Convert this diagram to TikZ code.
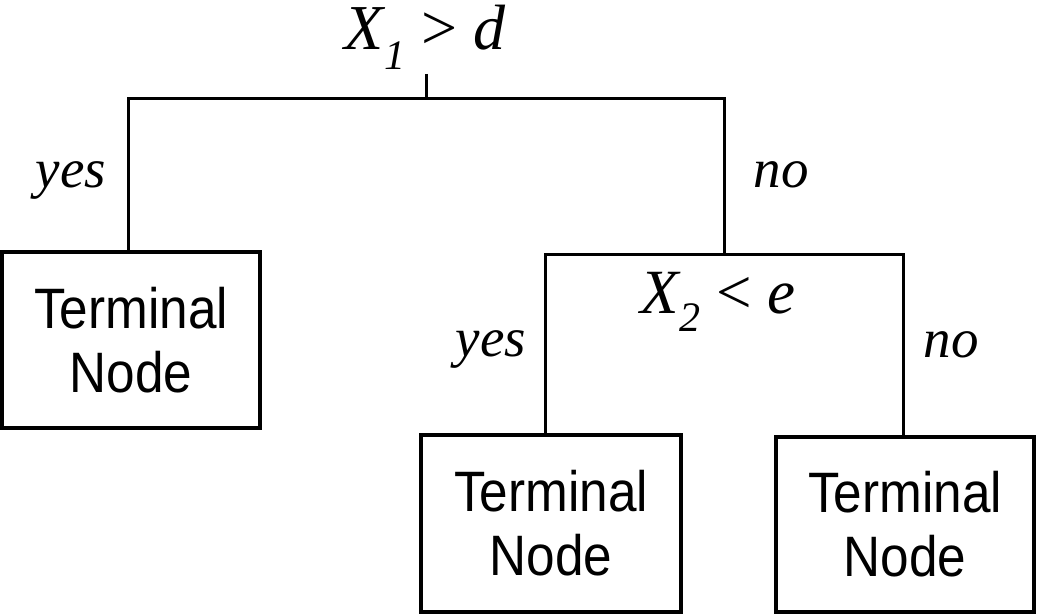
\documentclass[tikz,border=0pt]{standalone}
\usepackage{fontspec}
\setmainfont{Liberation Serif}
\newfontfamily\boxfont[FakeStretch=0.9]{Liberation Sans}
\newcommand{\lowsub}[1]{\raisebox{-0.3em}{\fontsize{42}{42}\selectfont #1}}
\begin{document}
\begin{tikzpicture}[x=1pt,y=-1pt,
  line width=3pt,
  tbox/.style={draw, line width=3.2pt, minimum width=258pt, minimum height=176pt,
    inner sep=0pt, align=center, font=\boxfont\fontsize{57}{64}\selectfont},
  cond/.style={anchor=base, inner sep=0pt, font=\itshape\fontsize{64}{64}\selectfont},
  branch/.style={anchor=base, inner sep=0pt, font=\itshape\fontsize{55}{55}\selectfont}]
  \useasboundingbox (0,0) rectangle (1037,615);

  % split conditions
  \node[cond] (c1) at (425,50) {X\lowsub{1} \textup{>} d};
  \node[cond, font=\itshape\fontsize{63}{63}\selectfont] (c2) at (718,313) {X\lowsub{2} \textup{<} e};

  % leaves
  \node[tbox] (L)  at (131,340)   {Terminal\\Node};
  \node[tbox, minimum width=260pt, minimum height=177pt] (ML) at (551,523.5) {Terminal\\Node};
  \node[tbox, minimum height=175pt] (MR) at (905,524.5) {Terminal\\Node};

  % junction points
  \coordinate (t1) at (426,74);
  \coordinate (h1) at (426,99);
  \coordinate (aL) at (128,99);
  \coordinate (aR) at (724,99);
  \coordinate (bM) at (724,254);
  \coordinate (bL) at (545,254);
  \coordinate (bR) at (903,254);

  % branches
  \draw (t1) -- (h1);
  \draw (L.north -| aL) -- (aL) -- (aR) -- (bM);
  \draw (ML.north -| bL) -- (bL) -- (bR) -- (MR.north -| bR);

  % branch labels
  \node[branch] (y1) at (71,188)  {yes};
  \node[branch] (n1) at (781,188) {no};
  \node[branch] (y2) at (491,356) {yes};
  \node[branch] (n2) at (951,357) {no};
\end{tikzpicture}
\end{document}
